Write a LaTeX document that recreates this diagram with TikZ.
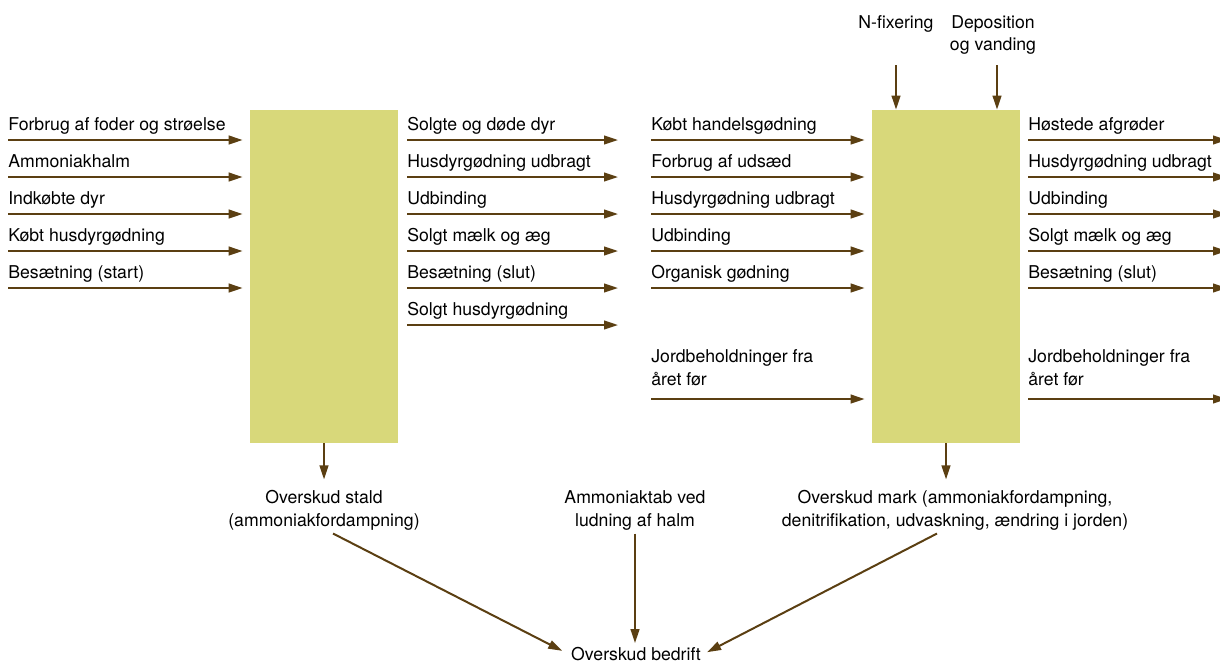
\documentclass[tikz,border=0pt]{standalone}
\usepackage{fontspec}
\setmainfont{TeX Gyre Heros}
\usetikzlibrary{arrows.meta,positioning,calc}
\definecolor{boxfill}{HTML}{D8D87A}
\definecolor{flowbrown}{HTML}{5B3F12}
\tikzset{
  flow/.style={draw=flowbrown,line width=1.2pt,-{Triangle[length=8.4pt,width=5.2pt]}},
  pool/.style={fill=boxfill,minimum width=88.8pt,minimum height=199.8pt,inner sep=0pt},
  lbl/.style={anchor=base west,inner sep=0pt,align=left},
  clbl/.style={anchor=base,align=center,inner sep=2pt}
}

\begin{document}
\begin{tikzpicture}[x=0.6pt,y=-0.6pt,font=\fontsize{10.6pt}{13.8pt}\selectfont]
\useasboundingbox (0,0) rectangle (1220,664);

% the two pools
\node[pool] (stald) at (324,276.5) {};
\node[pool] (mark) at (946,276.5) {};

% into stald
\foreach \y/\t [count=\i] in {140/Forbrug af foder og strøelse,177/Ammoniakhalm,214/Indkøbte dyr,251/Købt husdyrgødning,288/Besætning (start)} {
  \node[lbl] (sin\i) at (8,\y-10) {\t};
  \coordinate (sina\i) at (8,\y);
  \path[flow,shorten >=4.2pt] (sina\i) -- (sina\i -| stald.west);
}

% out of stald
\foreach \y/\t [count=\i] in {140/Solgte og døde dyr,177/Husdyrgødning udbragt,214/Udbinding,251/Solgt mælk og æg,288/Besætning (slut),325/Solgt husdyrgødning} {
  \node[lbl] (sout\i) at (407,\y-10) {\t};
  \coordinate (souta\i) at (618,\y);
  \path[flow,shorten <=5.4pt] (souta\i -| stald.east) -- (souta\i);
}

% into mark
\foreach \y/\t [count=\i] in {140/Købt handelsgødning,177/Forbrug af udsæd,214/Husdyrgødning udbragt,251/Udbinding,288/Organisk gødning} {
  \node[lbl] (min\i) at (651,\y-10) {\t};
  \coordinate (mina\i) at (651,\y);
  \path[flow,shorten >=4.2pt] (mina\i) -- (mina\i -| mark.west);
}
\node[lbl] (min6) at (651,385) {Jordbeholdninger fra\\året før};
\coordinate (mina6) at (651,399);
\path[flow,shorten >=4.2pt] (mina6) -- (mina6 -| mark.west);

% out of mark
\foreach \y/\t [count=\i] in {140/Høstede afgrøder,177/Husdyrgødning udbragt,214/Udbinding,251/Solgt mælk og æg,288/Besætning (slut)} {
  \node[lbl] (mout\i) at (1028,\y-10) {\t};
  \coordinate (mouta\i) at (1227,\y);
  \path[flow,shorten <=4.8pt] (mouta\i -| mark.east) -- (mouta\i);
}
\node[lbl] (mout6) at (1028,385) {Jordbeholdninger fra\\året før};
\coordinate (mouta6) at (1227,399);
\path[flow,shorten <=4.8pt] (mouta6 -| mark.east) -- (mouta6);

% from above
\node[clbl] (nfix) at (896,28) {N-fixering};
\node[clbl,font=\fontsize{10.6pt}{13.2pt}\selectfont] (depos) at (993,50) {Deposition\\og vanding};
\coordinate (nfixa) at (896,65);
\coordinate (deposa) at (997,65);
\path[flow] (nfixa) -- (nfixa |- mark.north);
\path[flow] (deposa) -- (deposa |- mark.north);

% surpluses
\node[clbl] (ostald) at (324,526) {Overskud stald\\(ammoniakfordampning)};
\node[clbl] (ammtab) at (635,526) {Ammoniaktab ved\\ludning af halm};
\node[clbl] (omark) at (955,526) {Overskud mark (ammoniakfordampning,\\denitrifikation, udvaskning, ændring i jorden)};
\node[clbl] (bedrift) at (636,660) {Overskud bedrift};

\path[flow,shorten >=4pt] (stald.south) -- (stald.south |- ostald.north);
\path[flow,shorten >=4pt] (mark.south) -- (mark.south |- omark.north);
\path[flow] (ammtab.south) -- (ammtab.south |- bedrift.north);
\path[flow,shorten >=3.6pt] ([xshift=5.4pt]ostald.south) -- (bedrift.west);
\path[flow,shorten >=1.8pt] ([xshift=-10.8pt]omark.south) -- (bedrift.east);

\end{tikzpicture}
\end{document}
